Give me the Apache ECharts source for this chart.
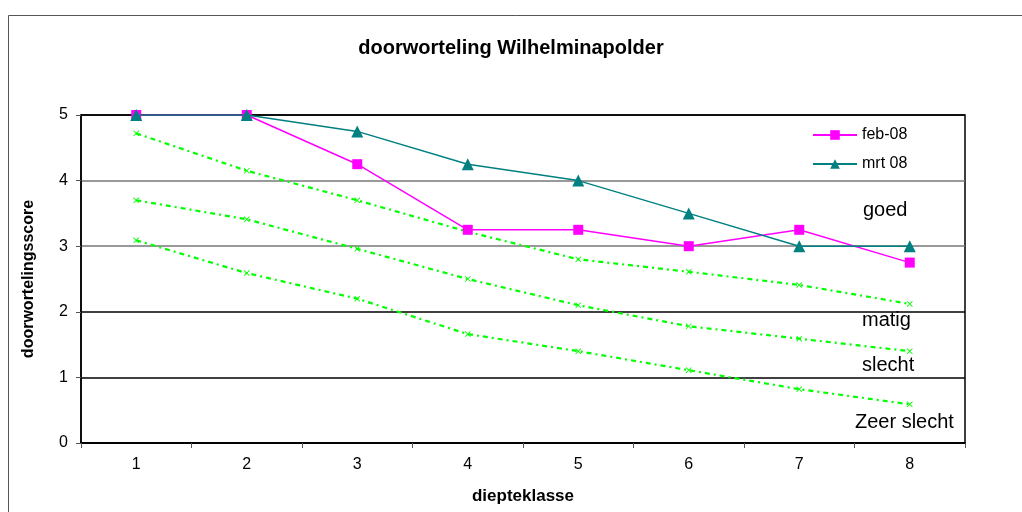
<!DOCTYPE html>
<html>
<head>
<meta charset="utf-8">
<script src="https://cdn.jsdelivr.net/npm/echarts@6/dist/echarts.min.js"></script>
<style>html,body{margin:0;padding:0;background:#fff}#c{width:1022px;height:512px}</style>
</head>
<body>
<div id="c"></div>
<script>
var categories = ['1','2','3','4','5','6','7','8'];
var feb08 = [5, 5, 4.25, 3.25, 3.25, 3, 3.25, 2.75];
var mrt08 = [5, 5, 4.75, 4.25, 4, 3.5, 3, 3];
var grensGoed = [4.72, 4.15, 3.70, 3.22, 2.80, 2.61, 2.41, 2.12];
var grensMatig = [3.70, 3.41, 2.96, 2.50, 2.10, 1.78, 1.59, 1.40];
var grensSlecht = [3.09, 2.59, 2.20, 1.66, 1.40, 1.11, 0.82, 0.59];
var yTicks = [0, 1, 2, 3, 4, 5];
var zoneLabels = ['goed', 'matig', 'slecht', 'Zeer slecht'];

var FONT = 'Arial, "Liberation Sans", sans-serif';
var xMark = 'path://M0,1L1,0L5,4L9,0L10,1L6,5L10,9L9,10L5,6L1,10L0,9L4,5Z';

function greenSeries(name, data) {
  return {
    name: name, type: 'line', data: data,
    symbol: xMark, symbolSize: 6,
    itemStyle: { color: '#00ff00' },
    lineStyle: { color: '#00ff00', width: 2.2, type: [5, 4, 2, 4] },
    z: 2, silent: true
  };
}

var chart = echarts.init(document.getElementById('c'));
chart.setOption({
  animation: false,
  backgroundColor: '#fff',
  title: {
    text: 'doorworteling Wilhelminapolder',
    left: 'center', top: 33,
    textStyle: { fontFamily: FONT, fontSize: 20, fontWeight: 'bold', color: '#000' }
  },
  grid: { left: 81, right: 57, top: 115, bottom: 69, show: true, borderColor: '#000', borderWidth: 1.5, containLabel: false },
  legend: {
    data: ['feb-08', 'mrt 08'],
    orient: 'vertical', left: 807, top: 122, itemGap: 13,
    itemWidth: 44, itemHeight: 12,
    textStyle: { fontFamily: FONT, fontSize: 16, color: '#000' }
  },
  xAxis: {
    type: 'category', data: categories, boundaryGap: true,
    name: 'diepteklasse', nameLocation: 'middle', nameGap: 45,
    nameTextStyle: { fontFamily: FONT, fontSize: 17, fontWeight: 'bold', color: '#000' },
    axisLine: { lineStyle: { color: '#000', width: 2 } },
    axisTick: { show: true, inside: false, length: 5, lineStyle: { color: '#555', width: 1 } },
    axisLabel: { fontFamily: FONT, fontSize: 16, color: '#000', margin: 14 }
  },
  yAxis: {
    type: 'value', min: yTicks[0], max: yTicks[yTicks.length - 1], interval: 1,
    name: 'doorwortelingsscore', nameLocation: 'middle', nameGap: 44,
    nameTextStyle: { fontFamily: FONT, fontSize: 16, fontWeight: 'bold', color: '#000' },
    axisLine: { show: true, lineStyle: { color: '#000', width: 1.5 } },
    axisTick: { show: true, length: 5, lineStyle: { color: '#555' } },
    axisLabel: { fontFamily: FONT, fontSize: 16, color: '#000', margin: 13 },
    splitLine: { show: true, lineStyle: { color: ['#000', '#000', '#000', '#777', '#777', '#000'], width: 1.5 } }
  },
  graphic: [
    { type: 'rect', shape: { x: 8.5, y: 15.5, width: 1100, height: 600 }, style: { fill: 'none', stroke: '#555', lineWidth: 1 }, silent: true },
    { type: 'text', left: 863, top: 200, style: { text: zoneLabels[0], font: '20px ' + FONT, fill: '#000' } },
    { type: 'text', left: 862, top: 310, style: { text: zoneLabels[1], font: '20px ' + FONT, fill: '#000' } },
    { type: 'text', left: 862, top: 355, style: { text: zoneLabels[2], font: '20px ' + FONT, fill: '#000' } },
    { type: 'text', left: 855, top: 412, style: { text: zoneLabels[3], font: '20px ' + FONT, fill: '#000' } }
  ],
  series: [
    greenSeries('goed', grensGoed),
    greenSeries('matig', grensMatig),
    greenSeries('slecht', grensSlecht),
    {
      name: 'feb-08', type: 'line', data: feb08,
      symbol: 'rect', symbolSize: 10,
      itemStyle: { color: '#ff00ff' },
      lineStyle: { color: '#ff00ff', width: 1.5 }, z: 4
    },
    {
      name: 'mrt 08', type: 'line', data: mrt08,
      symbol: 'triangle', symbolSize: 12,
      itemStyle: { color: '#008080' },
      lineStyle: { color: '#008080', width: 1.5 }, z: 5
    }
  ]
});
</script>
</body>
</html>
